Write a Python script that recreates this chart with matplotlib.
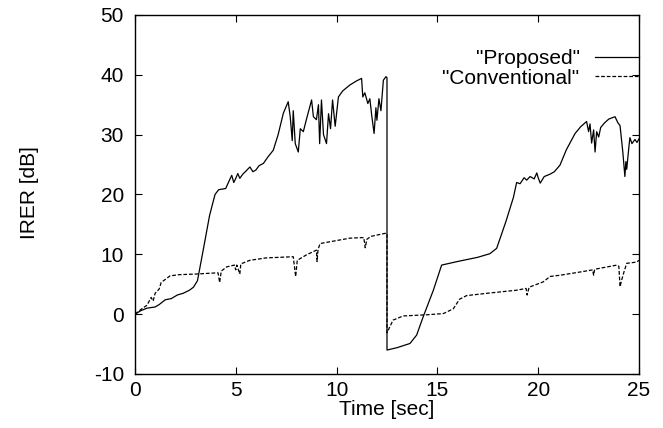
import numpy as np
import matplotlib.pyplot as plt

plt.rcParams['font.family'] = ['Liberation Sans', 'DejaVu Sans']
plt.rcParams['axes.unicode_minus'] = False

# "Proposed" IRER curve (time [sec], IRER [dB])
prop_t = [0, 0.3, 0.6, 1.0, 1.2, 1.5, 1.8, 2.1, 2.4, 2.7, 2.9, 3.1, 3.4, 3.7, 3.97,
          4.15, 4.5, 4.7, 4.8, 4.9, 5.0, 5.1, 5.2, 5.35, 5.5, 5.7, 5.85, 6.0, 6.15,
          6.37, 6.6, 6.86, 7.1, 7.36, 7.6, 7.7, 7.8, 7.85, 7.95, 8.1, 8.2, 8.35, 8.5,
          8.76, 8.85, 9.0, 9.1, 9.16, 9.25, 9.35, 9.5, 9.6, 9.7, 9.8, 9.93, 10.09,
          10.3, 10.66, 11.0, 11.24, 11.3, 11.4, 11.55, 11.65, 11.75, 11.86, 11.95,
          12.0, 12.1, 12.2, 12.32, 12.45, 12.5,
          12.5, 13.0, 13.64, 13.97, 14.3, 14.8, 15.21, 16.0, 17.0, 17.6, 17.94, 18.4,
          18.77, 18.93, 19.1, 19.3, 19.43, 19.6, 19.8, 19.93, 20.0, 20.1, 20.3, 20.59,
          20.8, 21.08, 21.4, 21.83, 22.1, 22.4, 22.5, 22.57, 22.65, 22.75, 22.82,
          22.9, 23.0, 23.1, 23.3, 23.5, 23.81, 23.95, 24.06, 24.2, 24.3, 24.35,
          24.39, 24.5, 24.55, 24.65, 24.8, 24.9, 25.0]
prop_v = [0, 0.6, 1.0, 1.2, 1.6, 2.4, 2.6, 3.2, 3.5, 4.0, 4.5, 5.6, 11.0, 16.5, 20.0,
          20.8, 21.0, 22.5, 23.2, 22.0, 22.7, 23.5, 22.7, 23.4, 23.9, 24.6, 23.8, 24.1,
          24.8, 25.2, 26.3, 27.4, 30.0, 33.6, 35.5, 33.0, 29.0, 34.0, 28.5, 27.1, 31.0,
          30.5, 32.5, 35.8, 33.0, 32.5, 35.0, 28.5, 35.8, 30.0, 28.5, 33.5, 31.0, 35.8,
          31.4, 36.3, 37.3, 38.3, 39.0, 39.4, 36.3, 37.0, 35.2, 36.0, 33.0, 30.2, 34.5,
          32.4, 36.0, 34.0, 39.1, 39.7, 39.5,
          -6.0, -5.6, -4.9, -3.5, -0.4, 4.0, 8.2, 8.8, 9.5, 10.1, 11.0, 15.5,
          19.5, 22.0, 21.8, 22.8, 22.4, 23.0, 22.6, 23.6, 22.8, 21.9, 23.0, 23.4,
          23.8, 24.9, 27.5, 30.2, 31.3, 32.2, 30.5, 31.8, 28.6, 30.8, 27.1,
          30.5, 29.6, 31.2, 32.0, 32.6, 33.0, 32.0, 31.5, 27.0, 23.0, 25.5,
          24.2, 28.0, 29.5, 28.5, 29.2, 28.7, 29.3]

# "Conventional" IRER curve
conv_t = [0, 0.3, 0.6, 0.8, 0.9, 1.0, 1.2, 1.3, 1.5, 1.74, 2.2, 3.0, 4.05, 4.12, 4.2,
          4.28, 4.55, 4.93, 5.0, 5.05, 5.2, 5.25, 5.7, 6.5, 7.85, 7.97, 8.05, 8.5,
          9.0, 9.03, 9.08, 9.18, 10.0, 10.66, 11.35, 11.42, 11.5, 11.7, 12.4, 12.5,
          12.5, 12.8, 13.3, 14.5, 15.3, 15.79, 16.1, 16.45, 17.5, 18.93, 19.4, 19.45,
          19.55, 20.25, 20.59, 21.08, 22.0, 22.7, 22.75, 22.8, 23.9, 24.0, 24.06,
          24.14, 24.25, 24.39, 24.88, 25.0]
conv_v = [0, 0.8, 1.5, 2.8, 2.2, 3.5, 4.2, 5.3, 5.8, 6.4, 6.6, 6.7, 6.9, 6.9, 5.3,
          7.2, 7.9, 8.2, 7.4, 8.2, 6.7, 8.4, 9.0, 9.4, 9.6, 6.3, 9.0, 9.9,
          10.7, 8.8, 10.8, 11.8, 12.3, 12.7, 12.8, 11.1, 12.5, 13.0, 13.5, 13.5,
          -3.1, -1.0, -0.3, -0.1, 0.1, 0.9, 2.5, 3.1, 3.5, 4.0, 4.3, 3.2,
          4.5, 5.4, 6.3, 6.5, 7.0, 7.4, 6.5, 7.5, 8.2, 8.0, 4.6,
          5.7, 7.0, 8.5, 8.7, 9.0]

xticks = [0, 5, 10, 15, 20, 25]
yticks = [-10, 0, 10, 20, 30, 40, 50]

fs = 15

fig = plt.figure(figsize=(6.63, 4.28), dpi=100)
ax = fig.add_axes([0.2036, 0.1262, 0.7602, 0.8388])

ax.plot(prop_t, prop_v, color='black', lw=0.9, label='"Proposed"')
ax.plot(conv_t, conv_v, color='black', lw=0.9, linestyle=(0, (3, 1.5)),
        label='"Conventional"')

ax.set_xlim(0, 25)
ax.set_ylim(-10, 50)
ax.set_xticks(xticks)
ax.set_yticks(yticks)
ax.tick_params(direction='in', top=True, right=True, length=5, width=0.8,
               labelsize=fs)
ax.tick_params(axis='x', pad=5)
ax.tick_params(axis='y', pad=8)
for s in ax.spines.values():
    s.set_linewidth(1.0)

ax.set_xlabel('Time [sec]', fontsize=fs, labelpad=0)
fig.text(0.045, 0.55, 'IRER [dB]', rotation=90, fontsize=fs,
         ha='center', va='center')

ax.legend(loc='upper right', bbox_to_anchor=(1.0, 0.905), frameon=False,
          markerfirst=False, fontsize=fs, handlelength=2.1, handletextpad=0.75,
          labelspacing=0.02, borderpad=0, borderaxespad=0)

fig.savefig('out.png', dpi=100)
